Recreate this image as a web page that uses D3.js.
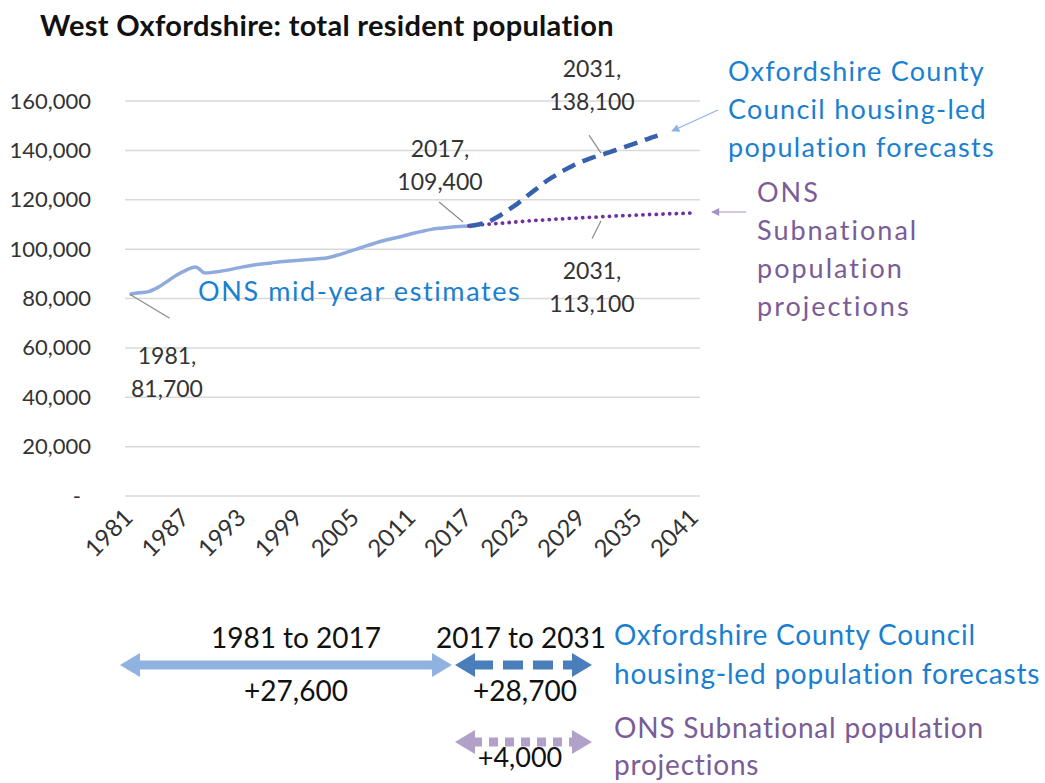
<!DOCTYPE html>
<html>
<head>
<meta charset="utf-8">
<script src="https://cdn.jsdelivr.net/npm/d3@7"></script>
<style>
  body { margin: 0; background: #fff; }
  svg text { font-family: Lato, "Open Sans", sans-serif; }
</style>
</head>
<body>
<script>
// data
var estYears = d3.range(1981, 2018);
var estValues = [81700, 82300, 82800, 84500, 87000, 89500, 91500, 92800, 90300, 90700,
                 91300, 92000, 92800, 93500, 94000, 94400, 94900, 95200, 95500, 95800,
                 96100, 96500, 97500, 98700, 99900, 101200, 102400, 103500, 104400, 105300,
                 106300, 107200, 108000, 108500, 108900, 109200, 109400];
var occYears = d3.range(2017, 2038);
var occValues = [109400, 110000, 111000, 113000, 115500, 118000, 121000, 124000, 127000, 129500,
                 131800, 133800, 135500, 137000, 138100, 139400, 140700, 142000, 143300, 144700, 146000];
var onsYears = d3.range(2017, 2042);
var onsValues = [109400, 109800, 110100, 110400, 110700, 111000, 111300, 111600, 111800, 112100,
                 112300, 112500, 112700, 112900, 113100, 113300, 113500, 113600, 113800, 114000,
                 114100, 114300, 114400, 114500, 114700];
var allYears = d3.range(1981, 2042);
var xTicks = [1981, 1987, 1993, 1999, 2005, 2011, 2017, 2023, 2029, 2035, 2041];
var yTicks = [0, 20000, 40000, 60000, 80000, 100000, 120000, 140000, 160000];

var W = 1045, H = 783;
var plotL = 125, plotR = 700, plotT = 101, plotB = 496;

var svg = d3.select('body').append('svg')
  .attr('width', W).attr('height', H);

// arrow markers
var defs = svg.append('defs');
function marker(id, color, w, h) {
  defs.append('marker')
    .attr('id', id)
    .attr('viewBox', '0 0 10 10')
    .attr('refX', 9).attr('refY', 5)
    .attr('markerWidth', w).attr('markerHeight', h)
    .attr('markerUnits', 'userSpaceOnUse')
    .attr('orient', 'auto-start-reverse')
    .append('path').attr('d', 'M0,0L10,5L0,10Z').attr('fill', color);
}
marker('a-lb', '#8fb2e0', 9, 8);
marker('a-pu', '#a592c4', 9, 8);

// title
svg.append('text')
  .attr('x', 40).attr('y', 36)
  .style('font-size', '29px').style('font-weight', 'bold')
  .style('letter-spacing', '0.3px')
  .attr('fill', '#111')
  .text('West Oxfordshire: total resident population');

var x = d3.scalePoint().domain(allYears).range([plotL, plotR]).padding(0.5);
var y = d3.scaleLinear().domain([0, 160000]).range([plotB, plotT]);

// gridlines
svg.append('g').selectAll('line').data(yTicks).enter().append('line')
  .attr('x1', plotL).attr('x2', plotR)
  .attr('y1', d => y(d)).attr('y2', d => y(d))
  .attr('stroke', '#d9d9d9').attr('stroke-width', 1.5);

// y axis
var yAxis = d3.axisLeft(y).tickValues(yTicks).tickSize(0)
  .tickFormat(d => d === 0 ? '-' : d3.format(',')(d));
var gy = svg.append('g').attr('transform', 'translate(' + (plotL - 31) + ',0)').call(yAxis);
gy.select('.domain').remove();
gy.selectAll('text').style('font-size', '22px').attr('fill', '#333')
  .attr('dx', d => d === 0 ? -10 : 0);

// x axis
var xAxis = d3.axisBottom(x).tickValues(xTicks).tickSize(0);
var gx = svg.append('g').attr('transform', 'translate(0,' + (plotB + 8) + ')').call(xAxis);
gx.select('.domain').remove();
gx.selectAll('text').style('font-size', '24px').attr('fill', '#333')
  .style('text-anchor', 'end')
  .attr('dx', 0).attr('dy', 0)
  .attr('transform', 'translate(2,13) rotate(-45)');

// lines
var line = d3.line().x(d => x(d[0])).y(d => y(d[1])).curve(d3.curveMonotoneX);
svg.append('path').datum(d3.zip(estYears, estValues))
  .attr('d', line).attr('fill', 'none')
  .attr('stroke', '#8faadc').attr('stroke-width', 3.5).attr('stroke-linejoin', 'round');
svg.append('path').datum(d3.zip(onsYears, onsValues))
  .attr('d', line).attr('fill', 'none')
  .attr('stroke', '#7030a0').attr('stroke-width', 3.8)
  .attr('stroke-dasharray', '0.1 6.6').attr('stroke-linecap', 'round');
svg.append('path').datum(d3.zip(occYears, occValues))
  .attr('d', line).attr('fill', 'none')
  .attr('stroke', '#3760ad').attr('stroke-width', 4.5)
  .attr('stroke-dasharray', '14 8');

// text helpers
function label(lines, cx, cy, color, size, anchor, lh, ls) {
  var t = svg.append('text').attr('fill', color).style('font-size', size + 'px')
    .style('text-anchor', anchor || 'middle')
    .style('letter-spacing', (ls || 0) + 'px');
  lines.forEach(function (s, i) {
    t.append('tspan').attr('x', cx).attr('y', cy + i * (lh || 33)).text(s);
  });
}
function leader(x1, y1, x2, y2) {
  svg.append('line').attr('x1', x1).attr('y1', y1).attr('x2', x2).attr('y2', y2)
    .attr('stroke', '#8c8c8c').attr('stroke-width', 1.2);
}

// data labels
var f = d3.format(',');
leader(x(1981), y(estValues[0]), x(1981) + 40, y(estValues[0]) + 24);
label(['1981,', f(estValues[0])], 167, 364, '#333', 23);
leader(x(2017) - 6, y(109400) - 4, x(2017) - 30, y(109400) - 24);
label(['2017,', f(109400)], 440, 157, '#333', 23);
leader(x(2031), y(138100) - 2, x(2031) - 12, y(138100) - 20);
label(['2031,', f(138100)], 592, 77, '#333', 23);
leader(x(2031), y(113100) + 4, x(2031) - 9, y(113100) + 22);
label(['2031,', f(113100)], 592, 279, '#333', 23);

// series labels
label(['ONS mid-year estimates'], 198, 301, '#1a7fd0', 27, 'start', 0, 1.6);
label(['Oxfordshire County', 'Council housing-led', 'population forecasts'], 728, 81, '#1a7fd0', 27, 'start', 38, 1.3);
label(['ONS', 'Subnational', 'population', 'projections'], 757, 202, '#7a5c96', 27, 'start', 38, 2);
svg.append('line').attr('x1', 718).attr('y1', 110).attr('x2', 672).attr('y2', 131)
  .attr('stroke', '#8fb2e0').attr('stroke-width', 1.2).attr('marker-end', 'url(#a-lb)');
svg.append('line').attr('x1', 746).attr('y1', 212).attr('x2', 712).attr('y2', 212)
  .attr('stroke', '#a592c4').attr('stroke-width', 1.2).attr('marker-end', 'url(#a-pu)');

// change summary
var changes = [
  {from: 1981, to: 2017, text: '+27,600'},
  {from: 2017, to: 2031, text: '+28,700'},
  {from: 2017, to: 2031, text: '+4,000'}
];
function dblArrow(x1, x2, cy, color, dash) {
  var g = svg.append('g');
  g.append('line').attr('x1', x1 + 18).attr('x2', x2 - 18).attr('y1', cy).attr('y2', cy)
    .attr('stroke', color).attr('stroke-width', 9).attr('stroke-dasharray', dash || null);
  g.append('path').attr('d', 'M' + x1 + ',' + cy + 'l20,-12v24z').attr('fill', color);
  g.append('path').attr('d', 'M' + x2 + ',' + cy + 'l-20,-12v24z').attr('fill', color);
}
dblArrow(120, 452, 665, '#8fb2e0');
dblArrow(455, 592, 665, '#4a7ebb', '20 10');
dblArrow(455, 592, 742, '#b1a0c7', '9 7');
label([changes[0].from + ' to ' + changes[0].to], 296, 648, '#111', 28);
label([changes[0].text], 296, 701, '#111', 28);
label([changes[1].from + ' to ' + changes[1].to], 521, 648, '#111', 28);
label([changes[1].text], 525, 701, '#111', 28);
label([changes[2].text], 520, 767, '#111', 27);
label(['Oxfordshire County Council', 'housing-led population forecasts'], 614, 645, '#1a7fd0', 28, 'start', 39, 0.8);
label(['ONS Subnational population', 'projections'], 614, 738, '#7a5c96', 28, 'start', 37, 0.8);
</script>
</body>
</html>
